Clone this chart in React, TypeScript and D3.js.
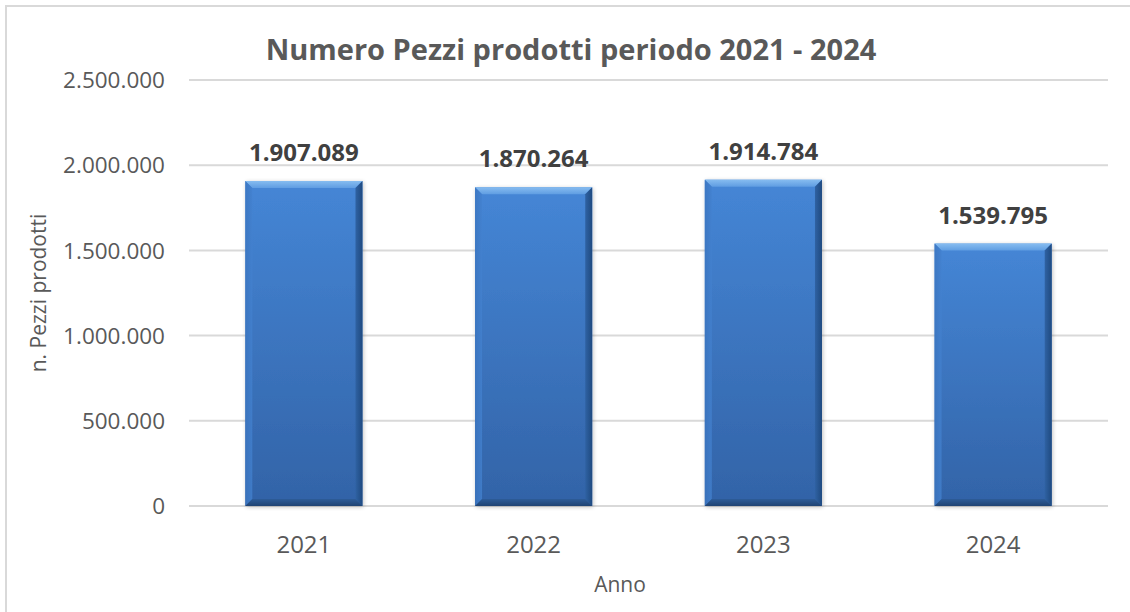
import React from "react";
import * as d3 from "d3";

const years = ["2021", "2022", "2023", "2024"];
const pieces = [1907089, 1870264, 1914784, 1539795];
const yTicks = [0, 500000, 1000000, 1500000, 2000000, 2500000];

const W = 1130;
const H = 612;
const FONT = "'Open Sans', sans-serif";
const TEXT = "#595959";

const locale = d3.formatLocale({ decimal: ",", thousands: ".", grouping: [3], currency: ["€", ""] });
const fmt = locale.format(",d");

export default function App() {
  const x = d3.scaleBand<string>().domain(years).range([189, 1108]).paddingInner(0.49).paddingOuter(0.245);
  const y = d3.scaleLinear().domain([0, 2500000]).range([506, 80]);
  const bw = x.bandwidth();
  const b = 7;

  return (
    <svg width={W} height={H} style={{ position: "absolute", left: 0, top: 0, background: "#fff" }}>
      <defs>
        <linearGradient id="body" x1="0" y1="0" x2="0" y2="1">
          <stop offset="0" stopColor="#4586d6" />
          <stop offset="1" stopColor="#3263a7" />
        </linearGradient>
        <linearGradient id="topBev" x1="0" y1="0" x2="0" y2="1">
          <stop offset="0" stopColor="#86bcf0" />
          <stop offset="1" stopColor="#5f9de2" />
        </linearGradient>
        <linearGradient id="botBev" x1="0" y1="0" x2="0" y2="1">
          <stop offset="0" stopColor="#2d5c98" />
          <stop offset="1" stopColor="#1f4373" />
        </linearGradient>
        <linearGradient id="leftBev" x1="0" y1="0" x2="1" y2="0">
          <stop offset="0" stopColor="#3b75bf" />
          <stop offset="1" stopColor="#4381cf" />
        </linearGradient>
        <linearGradient id="rightBev" x1="0" y1="0" x2="1" y2="0">
          <stop offset="0" stopColor="#2f62a3" />
          <stop offset="1" stopColor="#1f4a80" />
        </linearGradient>
        <filter id="shadow" x="-10%" y="-10%" width="130%" height="130%">
          <feGaussianBlur in="SourceAlpha" stdDeviation="2" />
          <feOffset dx="1" dy="1" result="ob" />
          <feComponentTransfer>
            <feFuncA type="linear" slope="0.25" />
          </feComponentTransfer>
          <feMerge>
            <feMergeNode />
            <feMergeNode in="SourceGraphic" />
          </feMerge>
        </filter>
      </defs>
      <rect x={6} y={6} width={W} height={H} fill="#fff" stroke="#d9d9d9" strokeWidth={2} />
      <text x={571} y={60} textAnchor="middle" fontFamily={FONT} fontWeight="bold" fontSize={29} fill={TEXT}>
        Numero Pezzi prodotti periodo 2021 - 2024
      </text>
      {yTicks.map((t) => (
        <g key={t}>
          <line x1={189} x2={1108} y1={y(t)} y2={y(t)} stroke="#d9d9d9" strokeWidth={2} />
          <text x={165} y={y(t)} dy="0.36em" textAnchor="end" fontFamily={FONT} fontSize={22.5} fill={TEXT}>
            {fmt(t)}
          </text>
        </g>
      ))}
      {years.map((yr, i) => {
        const x0 = x(yr)!;
        const y0 = y(pieces[i]);
        const h = y(0) - y0;
        const x1 = x0 + bw;
        const y1 = y0 + h;
        return (
          <g key={yr}>
            <g filter="url(#shadow)">
              <rect x={x0} y={y0} width={bw} height={h} fill="url(#body)" />
            </g>
            <polygon points={`${x0},${y0} ${x1},${y0} ${x1 - b},${y0 + b} ${x0 + b},${y0 + b}`} fill="url(#topBev)" />
            <polygon points={`${x0},${y0} ${x0 + b},${y0 + b} ${x0 + b},${y1 - b} ${x0},${y1}`} fill="url(#leftBev)" opacity={0.8} />
            <polygon points={`${x1},${y0} ${x1 - b},${y0 + b} ${x1 - b},${y1 - b} ${x1},${y1}`} fill="url(#rightBev)" />
            <polygon points={`${x0},${y1} ${x1},${y1} ${x1 - b},${y1 - b} ${x0 + b},${y1 - b}`} fill="url(#botBev)" />
            <text x={x0 + bw / 2} y={y0 - 20} textAnchor="middle" fontFamily={FONT} fontWeight="bold" fontSize={24} fill="#404040">
              {fmt(pieces[i])}
            </text>
            <text x={x0 + bw / 2} y={553} textAnchor="middle" fontFamily={FONT} fontSize={24} fill={TEXT}>
              {yr}
            </text>
          </g>
        );
      })}
      <text x={620} y={592} textAnchor="middle" fontFamily={FONT} fontSize={21} fill={TEXT}>Anno</text>
      <text transform={`translate(46,293) rotate(-90)`} textAnchor="middle" fontFamily={FONT} fontSize={21} fill={TEXT}>
        n. Pezzi prodotti
      </text>
    </svg>
  );
}
